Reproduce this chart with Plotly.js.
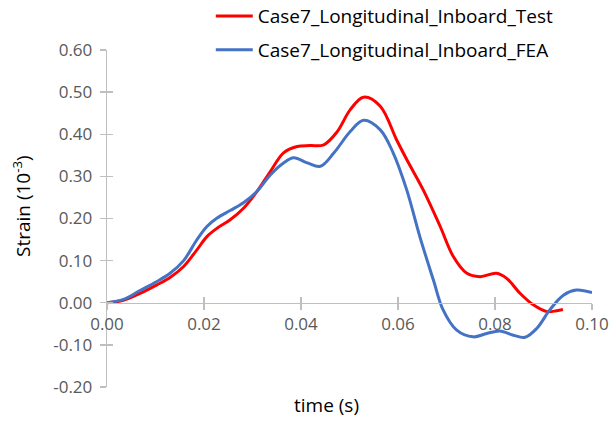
<!DOCTYPE html>
<html>
<head>
<meta charset="utf-8">
<script src="https://cdn.plot.ly/plotly-3.0.1.min.js"></script>
<style>html,body{margin:0;padding:0;background:#fff;}#chart{width:616px;height:421px;}</style>
</head>
<body>
<div id="chart"></div>
<script>
// Test series (time in s, strain in 10^-3)
var testTime = [0, 0.0034, 0.0068, 0.0102, 0.013, 0.0158, 0.0185, 0.0206, 0.0227, 0.0254, 0.0282, 0.0309, 0.0337, 0.0364, 0.0392, 0.0419, 0.0447, 0.0474, 0.0502, 0.0529, 0.0563, 0.0597, 0.0618, 0.0652, 0.0687, 0.0714, 0.0742, 0.0769, 0.0803, 0.0824, 0.0852, 0.0879, 0.0907, 0.0927, 0.094];
var testStrain = [0, 0.006, 0.022, 0.042, 0.06, 0.086, 0.125, 0.157, 0.177, 0.197, 0.225, 0.264, 0.312, 0.356, 0.371, 0.373, 0.375, 0.405, 0.459, 0.488, 0.467, 0.387, 0.340, 0.268, 0.181, 0.110, 0.070, 0.062, 0.070, 0.058, 0.022, -0.005, -0.021, -0.019, -0.016];
// FEA series
var feaTime = [0, 0.0034, 0.0068, 0.0102, 0.013, 0.0158, 0.0185, 0.0206, 0.0227, 0.0254, 0.0282, 0.0309, 0.0337, 0.0364, 0.0385, 0.0413, 0.044, 0.0468, 0.0502, 0.0529, 0.0563, 0.059, 0.0618, 0.0645, 0.0673, 0.0693, 0.0721, 0.0755, 0.0783, 0.081, 0.0838, 0.0862, 0.0886, 0.0913, 0.0941, 0.0968, 0.1];
var feaStrain = [0, 0.008, 0.029, 0.05, 0.07, 0.10, 0.149, 0.181, 0.201, 0.219, 0.238, 0.264, 0.304, 0.332, 0.344, 0.332, 0.324, 0.356, 0.407, 0.433, 0.411, 0.356, 0.268, 0.157, 0.054, -0.017, -0.065, -0.081, -0.073, -0.067, -0.077, -0.082, -0.061, -0.017, 0.018, 0.030, 0.024];

var seriesNames = ['Case7_Longitudinal_Inboard_Test', 'Case7_Longitudinal_Inboard_FEA'];
var xTickVals = [0, 0.02, 0.04, 0.06, 0.08, 0.10];
var xTickText = ['0.00', '0.02', '0.04', '0.06', '0.08', '0.10'];
var yTickVals = [-0.2, -0.1, 0, 0.1, 0.2, 0.3, 0.4, 0.5, 0.6];
var yTickText = ['-0.20', '-0.10', '0.00', '0.10', '0.20', '0.30', '0.40', '0.50', '0.60'];
var xTitle = 'time (s)';
var yTitle = 'Strain (10<sup>-3</sup>)';

var FONT = 'Open Sans, Liberation Sans, sans-serif';
var GRAY = '#BFBFBF';
var LABEL = '#595959';

var traces = [
  {x: testTime, y: testStrain, name: seriesNames[0], type: 'scatter', mode: 'lines',
   line: {color: '#FF0000', width: 3, shape: 'spline', smoothing: 1}, legendgroup: 'a'},
  {x: feaTime, y: feaStrain, name: seriesNames[1], type: 'scatter', mode: 'lines',
   line: {color: '#4472C4', width: 3, shape: 'spline', smoothing: 1}, legendgroup: 'b'},
  {x: [0], y: [0], xaxis: 'x2', yaxis: 'y2', showlegend: false, hoverinfo: 'skip', type: 'scatter', mode: 'markers', marker: {opacity: 0, size: 1}}
];

var yPos = (0 - (-0.2)) / (0.6 - (-0.2));

var layout = {
  width: 616, height: 421,
  margin: {l: 107, r: 24, t: 50, b: 34, autoexpand: false},
  paper_bgcolor: '#fff', plot_bgcolor: '#fff',
  font: {family: FONT, color: LABEL, size: 17},
  showlegend: true,
  legend: {
    x: 0.214, y: 1.157, xanchor: 'left', yanchor: 'top',
    font: {family: FONT, size: 19, color: '#000'},
    traceorder: 'grouped', tracegroupgap: 6, itemwidth: 37,
    bgcolor: 'rgba(0,0,0,0)'
  },
  xaxis: {
    range: [0, 0.1], anchor: 'free', position: yPos,
    tickvals: xTickVals, ticktext: xTickText,
    ticks: 'outside', ticklen: 6, tickcolor: GRAY, tickwidth: 1.3,
    showline: true, linecolor: GRAY, linewidth: 1.3,
    showgrid: false, zeroline: false,
    tickfont: {family: FONT, size: 17, color: LABEL}
  },
  yaxis: {
    range: [-0.2, 0.6], domain: [0, 1],
    tickvals: yTickVals, ticktext: yTickText,
    ticks: 'outside', ticklen: 6, tickcolor: GRAY, tickwidth: 1.3,
    showline: true, linecolor: GRAY, linewidth: 1.3,
    showgrid: false, zeroline: false, ticklabelstandoff: 4,
    tickfont: {family: FONT, size: 17, color: LABEL}
  },
  xaxis2: {
    range: [0, 0.1], overlaying: 'x', anchor: 'free', position: yPos,
    tickvals: xTickVals, showticklabels: false,
    ticks: 'inside', ticklen: 6, tickcolor: GRAY, tickwidth: 1.3,
    showline: false, showgrid: false, zeroline: false
  },
  yaxis2: {
    range: [-0.2, 0.6], overlaying: 'y',
    tickvals: yTickVals, showticklabels: false,
    ticks: 'inside', ticklen: 6, tickcolor: GRAY, tickwidth: 1.3,
    showline: false, showgrid: false, zeroline: false
  },
  annotations: [
    {text: xTitle, xref: 'paper', yref: 'paper', x: (326 - 107) / 485, y: (421 - 34 - 405) / 337,
     xanchor: 'center', yanchor: 'middle', showarrow: false,
     font: {family: FONT, size: 19, color: '#000'}},
    {text: yTitle, xref: 'paper', yref: 'paper', x: (22 - 107) / 485, y: (387 - 206) / 337,
     xanchor: 'center', yanchor: 'middle', showarrow: false, textangle: -90,
     font: {family: FONT, size: 19, color: '#000'}}
  ]
};

Plotly.newPlot('chart', traces, layout, {displayModeBar: false, staticPlot: true});
</script>
</body>
</html>
